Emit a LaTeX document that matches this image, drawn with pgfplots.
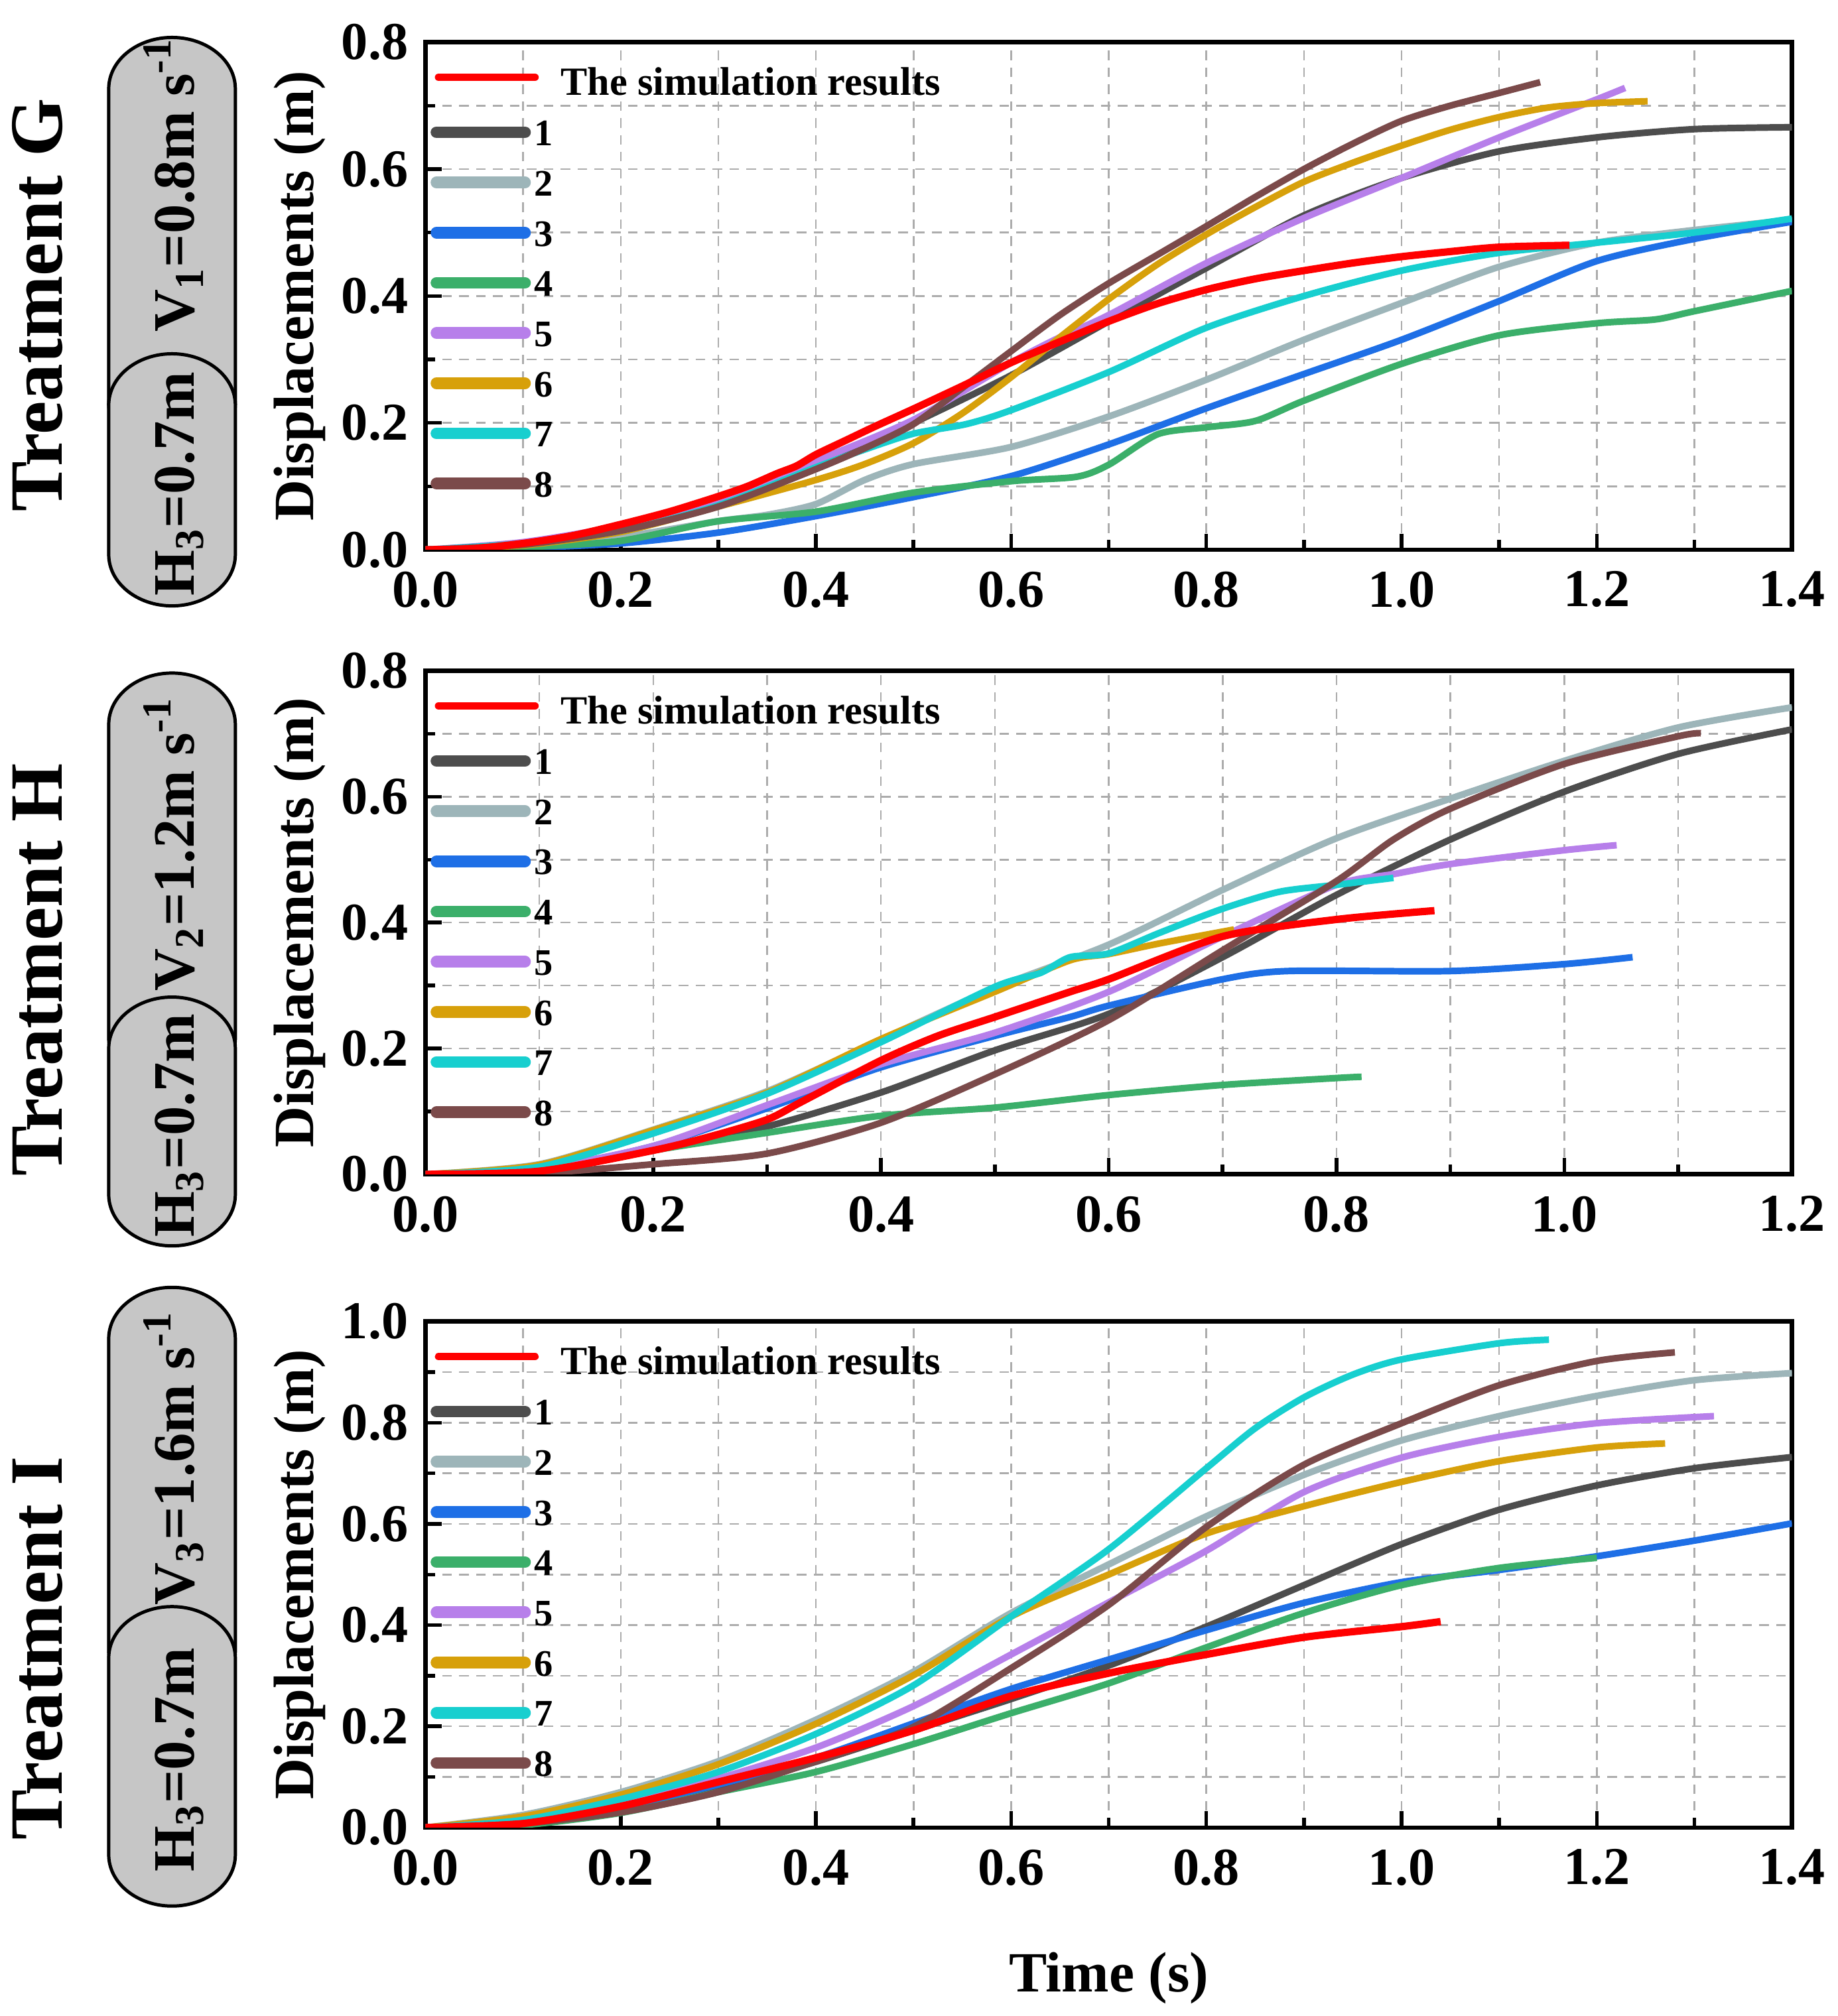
\documentclass[border=0pt]{standalone}
\usepackage{fontspec}
\setmainfont{Liberation Serif}
\usepackage{pgfplots}
\pgfplotsset{compat=1.18}
\pgfkeys{/pgf/number format/assume math mode=true}
\definecolor{c1}{RGB}{77,77,77}
\definecolor{c2}{RGB}{157,181,185}
\definecolor{c3}{RGB}{30,111,230}
\definecolor{c4}{RGB}{59,175,106}
\definecolor{c5}{RGB}{183,127,234}
\definecolor{c6}{RGB}{215,160,10}
\definecolor{c7}{RGB}{23,207,207}
\definecolor{c8}{RGB}{123,74,74}
\definecolor{capfill}{RGB}{198,198,198}
\tikzset{ne/.style={text height=7.3pt, text depth=0pt}}
\pgfplotsset{
 panel/.style={
  scale only axis, width=372.3pt,
  xmin=0, ymin=0,
  tick pos=left, tick align=inside,
  minor tick num=1, grid=both,
  major grid style={gray!65, dash pattern=on 2.6pt off 2pt, line width=0.45pt},
  minor grid style={gray!65, dash pattern=on 2.6pt off 2pt, line width=0.45pt},
  axis line style={line width=1.2pt, black},
  tick style={black, line width=1pt},
  major tick length=4.4pt, minor tick length=2.7pt,
  ticklabel style={font=\bfseries\fontsize{14.5}{14.5}\selectfont},
  xticklabel style={yshift=-2.4pt, /pgf/number format/.cd, fixed, fixed zerofill, precision=1},
  yticklabel style={xshift=-1.2pt, /pgf/number format/.cd, fixed, fixed zerofill, precision=1},
  ylabel={Displacements (m)},
  every axis y label/.style={at={([xshift=-34.3pt]axis description cs:0,0.5)}, anchor=center, rotate=90, font=\bfseries\fontsize{15.5}{15.5}\selectfont},
  every axis x label/.style={at={([yshift=-41pt]axis description cs:0.5,0)}, anchor=center, font=\bfseries\fontsize{15.5}{15.5}\selectfont},
  legend image code/.code={\pgfpathrectangle{\pgfpoint{0pt}{-0.2pt}}{\pgfpoint{29.5pt}{0.4pt}}\pgfusepath{use as bounding box}\draw[##1] (2.8pt,0pt) -- (26.9pt,0pt);},
  legend style={draw=none, fill=none, at={(0,1)}, anchor=north west, xshift=0pt, yshift=-7.6pt,
    inner xsep=0pt, inner ysep=0pt,
    font=\bfseries\fontsize{10.2}{10.2}\selectfont,
    nodes={inner sep=0pt, outer sep=0pt}, row sep=6.38pt, column sep=0pt},
  legend cell align=left,
 },
 dl/.style={line width=1.8pt, smooth, tension=0.45, forget plot, line join=round},
}
\newcommand{\legimgs}{%
 \addlegendimage{red, line width=2.1pt, line cap=round, shorten <=0.6pt, shorten >=-2.7pt, yshift=-1.75pt}
 \addlegendentry[text height=5.14pt, text depth=0pt, yshift=-4.13pt, font=\bfseries\fontsize{10.9}{10.9}\selectfont]{\hspace{7.2pt}The simulation results}
 \addlegendimage{c1, line width=3.2pt, line cap=round}\addlegendentry[ne]{1}
 \addlegendimage{c2, line width=3.2pt, line cap=round}\addlegendentry[ne]{2}
 \addlegendimage{c3, line width=3.2pt, line cap=round}\addlegendentry[ne]{3}
 \addlegendimage{c4, line width=3.2pt, line cap=round}\addlegendentry[ne]{4}
 \addlegendimage{c5, line width=3.2pt, line cap=round}\addlegendentry[ne]{5}
 \addlegendimage{c6, line width=3.2pt, line cap=round}\addlegendentry[ne]{6}
 \addlegendimage{c7, line width=3.2pt, line cap=round}\addlegendentry[ne]{7}
 \addlegendimage{c8, line width=3.2pt, line cap=round}\addlegendentry[ne]{8}
}
\newcommand{\capsule}[2]{%
 \draw[fill=capfill, line width=0.9pt] (29.3pt,{-(#1+14)*1pt}) arc[start angle=180, end angle=0, x radius=17.25pt, y radius=14pt] -- (63.8pt,{-(#2-14)*1pt}) arc[start angle=0, end angle=-180, x radius=17.25pt, y radius=14pt] -- cycle;}
\begin{document}
\begin{tikzpicture}
\path (0pt,0pt) rectangle (500pt,-546.57pt);
% ---- left annotations ----
\capsule{10.2}{124}
\capsule{96.4}{165.1}
\capsule{183.4}{297}
\capsule{271.7}{339.5}
\capsule{350.8}{464}
\capsule{437.8}{519.4}
\begin{scope}[every node/.style={rotate=90, font=\bfseries\fontsize{20.5}{20.5}\selectfont}]
\node at (9.9pt,-83.1pt) {Treatment G};
\node at (9.9pt,-264.3pt) {Treatment H};
\node at (9.9pt,-449.1pt) {Treatment I};
\end{scope}
\begin{scope}[every node/.style={rotate=90, anchor=base, font=\bfseries\fontsize{16}{16}\selectfont}]
\node at (52.5pt,-50.4pt) {V\textsubscript{1}=0.8m s\textsuperscript{-1}};
\node at (52.5pt,-131.9pt) {H\textsubscript{3}=0.7m};
\node at (52.5pt,-230pt) {V\textsubscript{2}=1.2m s\textsuperscript{-1}};
\node at (52.5pt,-306.7pt) {H\textsubscript{3}=0.7m};
\node at (52.5pt,-397.3pt) {V\textsubscript{3}=1.6m s\textsuperscript{-1}};
\node at (52.5pt,-479.5pt) {H\textsubscript{3}=0.7m};
\end{scope}
% ---- Treatment G ----
\begin{axis}[panel, at={(115.6pt,-149.8pt)}, anchor=south west, height=138.3pt,
  xmax=1.4, ymax=0.8, xtick={0,0.2,0.4,0.6,0.8,1.0,1.2,1.4}, ytick={0,0.2,0.4,0.6,0.8}]
\legimgs
\addplot[dl,c1] coordinates {(0,0) (0.1,0.008) (0.2,0.03) (0.3,0.07) (0.4,0.13) (0.5,0.2) (0.6,0.275) (0.7,0.36) (0.8,0.444) (0.9,0.527) (1.0,0.586) (1.1,0.628) (1.2,0.65) (1.3,0.663) (1.4,0.666)};
\addplot[dl,c2] coordinates {(0,0) (0.1,0.005) (0.2,0.02) (0.3,0.045) (0.35,0.055) (0.4,0.072) (0.45,0.11) (0.5,0.135) (0.6,0.162) (0.7,0.21) (0.8,0.268) (0.9,0.331) (1.0,0.389) (1.1,0.446) (1.2,0.484) (1.3,0.504) (1.4,0.52)};
\addplot[dl,c3] coordinates {(0,0) (0.1,0.003) (0.2,0.01) (0.3,0.027) (0.4,0.053) (0.5,0.083) (0.6,0.116) (0.7,0.166) (0.8,0.223) (0.9,0.277) (1.0,0.331) (1.1,0.392) (1.2,0.455) (1.3,0.49) (1.4,0.517)};
\addplot[dl,c4] coordinates {(0,0) (0.1,0.004) (0.2,0.014) (0.3,0.045) (0.4,0.06) (0.5,0.09) (0.6,0.108) (0.667,0.115) (0.7,0.134) (0.75,0.182) (0.8,0.193) (0.85,0.203) (0.9,0.235) (1.0,0.293) (1.1,0.338) (1.2,0.357) (1.26,0.363) (1.3,0.376) (1.4,0.408)};
\addplot[dl,c5] coordinates {(0,0) (0.1,0.012) (0.2,0.038) (0.3,0.078) (0.4,0.14) (0.5,0.205) (0.6,0.295) (0.65,0.335) (0.7,0.37) (0.8,0.452) (0.9,0.523) (1.0,0.586) (1.1,0.65) (1.2,0.71) (1.229,0.728)};
\addplot[dl,c6] coordinates {(0,0) (0.1,0.007) (0.2,0.028) (0.3,0.068) (0.4,0.11) (0.45,0.135) (0.5,0.168) (0.55,0.215) (0.6,0.272) (0.65,0.335) (0.7,0.395) (0.75,0.45) (0.8,0.497) (0.85,0.54) (0.9,0.58) (0.95,0.61) (1.0,0.637) (1.05,0.662) (1.1,0.682) (1.15,0.697) (1.2,0.704) (1.252,0.707)};
\addplot[dl,c7] coordinates {(0,0) (0.1,0.01) (0.2,0.03) (0.3,0.07) (0.4,0.13) (0.45,0.158) (0.5,0.183) (0.554,0.198) (0.6,0.22) (0.7,0.28) (0.8,0.35) (0.9,0.40) (1.0,0.44) (1.1,0.468) (1.2,0.484) (1.3,0.5) (1.4,0.522)};
\addplot[dl,c8] coordinates {(0,0) (0.1,0.008) (0.2,0.03) (0.3,0.068) (0.4,0.127) (0.45,0.16) (0.5,0.198) (0.55,0.255) (0.6,0.313) (0.65,0.37) (0.7,0.42) (0.75,0.465) (0.8,0.51) (0.85,0.556) (0.9,0.6) (0.95,0.64) (1.0,0.676) (1.05,0.7) (1.1,0.72) (1.142,0.737)};
\addplot[dl,red,line width=2pt] coordinates {(0,0) (0.05,0.002) (0.1,0.01) (0.15,0.022) (0.2,0.04) (0.25,0.06) (0.3,0.084) (0.33,0.1) (0.36,0.12) (0.38,0.132) (0.4,0.15) (0.43,0.172) (0.46,0.194) (0.5,0.222) (0.55,0.258) (0.6,0.295) (0.65,0.328) (0.7,0.36) (0.75,0.388) (0.8,0.41) (0.85,0.427) (0.9,0.44) (0.95,0.452) (1.0,0.462) (1.05,0.47) (1.1,0.477) (1.172,0.48)};
\end{axis}
% ---- Treatment H ----
\begin{axis}[panel, at={(115.6pt,-320pt)}, anchor=south west, height=137.2pt,
  xmax=1.2, ymax=0.8, xtick={0,0.2,0.4,0.6,0.8,1.0,1.2}, ytick={0,0.2,0.4,0.6,0.8}]
\legimgs
\addplot[dl,c1] coordinates {(0,0) (0.1,0.008) (0.2,0.038) (0.3,0.076) (0.4,0.13) (0.5,0.197) (0.6,0.255) (0.7,0.345) (0.8,0.444) (0.9,0.532) (1.0,0.608) (1.1,0.668) (1.2,0.707)};
\addplot[dl,c2] coordinates {(0,0) (0.1,0.016) (0.2,0.071) (0.3,0.132) (0.4,0.214) (0.5,0.296) (0.6,0.365) (0.7,0.452) (0.8,0.534) (0.9,0.597) (1.0,0.657) (1.1,0.71) (1.2,0.742)};
\addplot[dl,c3] coordinates {(0,0) (0.1,0.008) (0.2,0.045) (0.3,0.105) (0.4,0.17) (0.5,0.22) (0.566,0.25) (0.6,0.268) (0.7,0.31) (0.757,0.323) (0.9,0.323) (1.0,0.334) (1.06,0.345)};
\addplot[dl,c4] coordinates {(0,0) (0.1,0.005) (0.2,0.038) (0.3,0.066) (0.4,0.093) (0.5,0.106) (0.6,0.126) (0.7,0.142) (0.8,0.153) (0.822,0.155)};
\addplot[dl,c5] coordinates {(0,0) (0.1,0.01) (0.2,0.045) (0.3,0.11) (0.4,0.175) (0.5,0.225) (0.6,0.29) (0.7,0.378) (0.8,0.46) (0.85,0.477) (0.9,0.493) (1.0,0.515) (1.046,0.523)};
\addplot[dl,c6] coordinates {(0,0) (0.1,0.015) (0.2,0.07) (0.3,0.13) (0.4,0.215) (0.5,0.29) (0.566,0.34) (0.6,0.35) (0.645,0.367) (0.71,0.389)};
\addplot[dl,c7] coordinates {(0,0) (0.1,0.012) (0.2,0.065) (0.3,0.128) (0.4,0.21) (0.5,0.298) (0.54,0.32) (0.566,0.345) (0.6,0.351) (0.645,0.384) (0.7,0.422) (0.75,0.449) (0.8,0.46) (0.85,0.471)};
\addplot[dl,c8] coordinates {(0,0) (0.1,0.002) (0.2,0.016) (0.3,0.033) (0.4,0.082) (0.5,0.159) (0.6,0.245) (0.7,0.356) (0.8,0.466) (0.85,0.532) (0.9,0.581) (1.0,0.652) (1.1,0.696) (1.12,0.701)};
\addplot[dl,red,line width=2pt] coordinates {(0,0) (0.1,0.005) (0.2,0.038) (0.25,0.06) (0.3,0.087) (0.33,0.115) (0.4,0.181) (0.45,0.22) (0.5,0.25) (0.566,0.29) (0.6,0.31) (0.7,0.378) (0.8,0.405) (0.886,0.419)};
\end{axis}
% ---- Treatment I ----
\begin{axis}[panel, at={(115.6pt,-498pt)}, anchor=south west, height=137.9pt,
  xmax=1.4, ymax=1.0, xtick={0,0.2,0.4,0.6,0.8,1.0,1.2,1.4}, ytick={0,0.2,0.4,0.6,0.8,1.0},
  xlabel={Time (s)}]
\legimgs
\addplot[dl,c1] coordinates {(0,0) (0.1,0.007) (0.2,0.03) (0.3,0.075) (0.4,0.13) (0.5,0.192) (0.6,0.254) (0.7,0.32) (0.8,0.397) (0.9,0.479) (1.0,0.56) (1.1,0.628) (1.2,0.676) (1.3,0.71) (1.4,0.732)};
\addplot[dl,c2] coordinates {(0,0) (0.1,0.025) (0.2,0.07) (0.3,0.131) (0.4,0.213) (0.5,0.308) (0.6,0.424) (0.7,0.52) (0.8,0.615) (0.9,0.697) (1.0,0.765) (1.1,0.813) (1.2,0.853) (1.3,0.884) (1.4,0.898)};
\addplot[dl,c3] coordinates {(0,0) (0.1,0.01) (0.2,0.04) (0.3,0.085) (0.4,0.138) (0.5,0.206) (0.6,0.274) (0.7,0.332) (0.8,0.39) (0.9,0.444) (1.0,0.485) (1.1,0.509) (1.2,0.536) (1.3,0.567) (1.4,0.601)};
\addplot[dl,c4] coordinates {(0,0) (0.1,0.005) (0.2,0.029) (0.3,0.07) (0.4,0.11) (0.5,0.165) (0.6,0.226) (0.7,0.285) (0.8,0.356) (0.9,0.424) (1.0,0.479) (1.1,0.513) (1.2,0.533)};
\addplot[dl,c5] coordinates {(0,0) (0.1,0.015) (0.2,0.05) (0.3,0.097) (0.4,0.158) (0.5,0.24) (0.6,0.342) (0.7,0.445) (0.8,0.547) (0.9,0.663) (1.0,0.731) (1.1,0.772) (1.2,0.799) (1.32,0.813)};
\addplot[dl,c6] coordinates {(0,0) (0.1,0.022) (0.2,0.065) (0.3,0.125) (0.4,0.205) (0.5,0.301) (0.6,0.417) (0.7,0.5) (0.8,0.581) (0.9,0.635) (1.0,0.683) (1.1,0.724) (1.2,0.751) (1.27,0.759)};
\addplot[dl,c7] coordinates {(0,0) (0.1,0.015) (0.2,0.056) (0.3,0.11) (0.4,0.185) (0.5,0.281) (0.6,0.417) (0.7,0.55) (0.8,0.71) (0.85,0.789) (0.9,0.85) (0.95,0.895) (1.0,0.925) (1.1,0.957) (1.151,0.964)};
\addplot[dl,c8] coordinates {(0,0) (0.1,0.008) (0.2,0.03) (0.3,0.07) (0.4,0.131) (0.5,0.199) (0.6,0.315) (0.7,0.44) (0.8,0.594) (0.9,0.717) (1.0,0.799) (1.1,0.874) (1.2,0.922) (1.28,0.939)};
\addplot[dl,red,line width=2pt] coordinates {(0,0) (0.1,0.008) (0.2,0.042) (0.3,0.09) (0.4,0.138) (0.5,0.192) (0.6,0.26) (0.7,0.305) (0.8,0.342) (0.9,0.376) (1.0,0.397) (1.04,0.407)};
\end{axis}
\end{tikzpicture}
\end{document}
